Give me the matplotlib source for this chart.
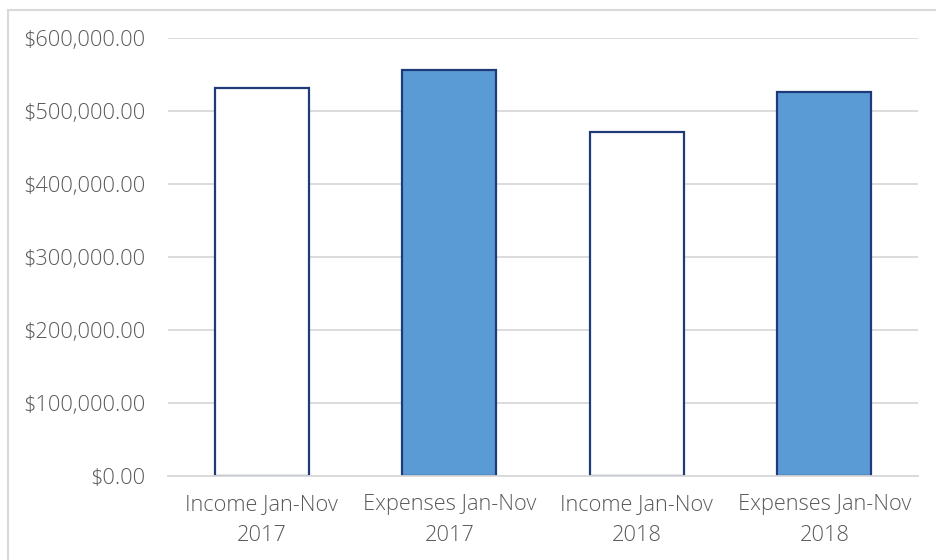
import matplotlib.pyplot as plt
from matplotlib.patches import Rectangle
from matplotlib.ticker import FuncFormatter

# values
categories = ["Income Jan-Nov\n2017", "Expenses Jan-Nov\n2017",
              "Income Jan-Nov\n2018", "Expenses Jan-Nov\n2018"]
amounts = [531000, 556000, 471000, 526000]
fills = ["white", "#5B9BD5", "white", "#5B9BD5"]
y_ticks = [0, 100000, 200000, 300000, 400000, 500000, 600000]

plt.rcParams["font.family"] = ["Open Sans", "DejaVu Sans"]
text_grey = "#595959"

fig = plt.figure(figsize=(9.36, 5.6), dpi=100)
ax = fig.add_axes([0.1795, 0.15, 0.8013, 0.782])

# light grey frame around the whole chart, like the Excel chart area (open at right/bottom edge)
fig.patches.append(Rectangle((8 / 936, -0.05), 1, 1.05 - 10 / 560, transform=fig.transFigure,
                             fill=False, edgecolor="#D9D9D9", linewidth=1.5))

x = range(len(categories))
ax.bar(x, amounts, width=0.5, color=fills, edgecolor="#1F3A78", linewidth=1.6, zorder=3)

ax.set_xlim(-0.5, len(categories) - 0.5)
ax.set_ylim(0, 600000)
ax.set_yticks(y_ticks)
ax.yaxis.set_major_formatter(FuncFormatter(lambda v, p: "${:,.2f}".format(v)))
ax.set_xticks(list(x))
ax.set_xticklabels(categories)

ax.grid(axis="y", color="#D9D9D9", linewidth=1.3, zorder=0)
for side in ["top", "right", "left"]:
    ax.spines[side].set_visible(False)
ax.spines["bottom"].set_color("#D9D9D9")
ax.spines["bottom"].set_linewidth(1.3)
ax.spines["bottom"].set_zorder(4)

ax.tick_params(axis="both", length=0, labelsize=15.7, labelcolor=text_grey)
ax.tick_params(axis="y", pad=16)
ax.tick_params(axis="x", pad=13)
for lab in ax.get_xticklabels() + ax.get_yticklabels():
    lab.set_fontweight("light")
for lab in ax.get_xticklabels():
    lab.set_linespacing(1.6)

plt.savefig("out.png", dpi=100)
